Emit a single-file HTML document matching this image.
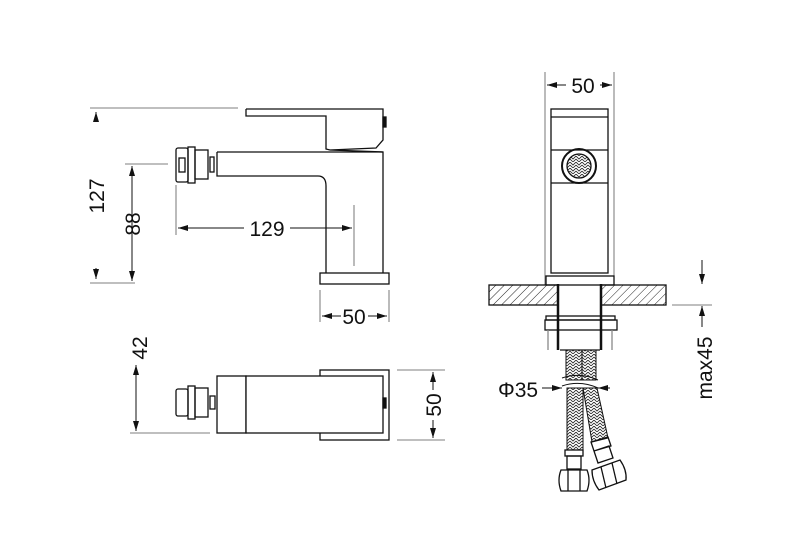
<!DOCTYPE html>
<html><head><meta charset="utf-8"><style>html,body{margin:0;padding:0;background:#fff}svg{display:block}</style></head>
<body>
<svg width="800" height="559" viewBox="0 0 800 559" xmlns="http://www.w3.org/2000/svg" font-family="Liberation Sans, Arial, sans-serif">
<defs>
<pattern id="h" width="6" height="6" patternUnits="userSpaceOnUse" patternTransform="rotate(45)">
<line x1="0" y1="0" x2="0" y2="6" stroke="#222" stroke-width="1"/></pattern>
<pattern id="br" width="6" height="6" patternUnits="userSpaceOnUse">
<path d="M0 0 L3 3 L6 0 M0 3 L3 6 L6 3" stroke="#222" stroke-width="0.8" fill="none"/></pattern>
<marker id="a" viewBox="0 0 10 6" refX="10" refY="3" markerWidth="10" markerHeight="6" orient="auto-start-reverse" markerUnits="userSpaceOnUse"><path d="M0 0 L10 3 L0 6Z" fill="#111"/></marker>
</defs>
<g fill="none" stroke="#111" stroke-width="1.3">
<path d="M246 109 H383 V140 L376 148 L330 150 M246 109 V116 H326 V149 L330 150 L383 152" />
<rect x="383" y="117" width="3" height="10" fill="#111"/>
<path d="M217 152 H383 V273 M217 152 V176 H318 Q326 176 326 186 V273"/>
<rect x="320" y="273" width="69" height="11"/>
<rect x="176" y="148" width="12" height="34" rx="2"/>
<rect x="179" y="158" width="6" height="14"/>
<rect x="188" y="147" width="7" height="36"/>
<rect x="195" y="150" width="13" height="29"/>
<rect x="210" y="157" width="4" height="15"/>
</g>
<g stroke="#555" stroke-width="0.8" fill="none">
<line x1="90" y1="108" x2="238" y2="108"/>
<line x1="125" y1="164" x2="168" y2="164"/>
<line x1="90" y1="283" x2="135" y2="283"/>
<line x1="176" y1="185" x2="176" y2="235"/>
<line x1="354" y1="205" x2="354" y2="266"/>
<line x1="320" y1="290" x2="320" y2="322"/>
<line x1="389" y1="290" x2="389" y2="322"/>
</g>
<g stroke="#111" stroke-width="1" fill="none">
<line x1="96" y1="122" x2="96" y2="112" marker-end="url(#a)"/>
<line x1="96" y1="268" x2="96" y2="279" marker-end="url(#a)"/>
<line x1="132" y1="166" x2="132" y2="281" marker-start="url(#a)" marker-end="url(#a)"/>
<line x1="178" y1="228" x2="244" y2="228" marker-start="url(#a)"/>
<line x1="290" y1="228" x2="352" y2="228" marker-end="url(#a)"/>
<line x1="322" y1="316" x2="341" y2="316" marker-start="url(#a)"/>
<line x1="368" y1="316" x2="387" y2="316" marker-end="url(#a)"/>
</g>
<g font-size="21" fill="#111" text-anchor="middle">
<text x="267" y="236">129</text>
<text x="354" y="324">50</text>
<text transform="translate(104,196) rotate(-90)">127</text>
<text transform="translate(140,224) rotate(-90)">88</text>
<text transform="translate(147,348) rotate(-90)">42</text>
<text transform="translate(441,405) rotate(-90)">50</text>
<text x="583" y="93">50</text>
<text x="518" y="397">Φ35</text>
<text transform="translate(712,368) rotate(-90)">max45</text>
</g>
<g fill="none" stroke="#111" stroke-width="1.3">
<rect x="320" y="370" width="69" height="70"/>
<rect x="217" y="376" width="29" height="57" fill="#fff"/>
<rect x="246" y="376" width="137" height="57" fill="#fff"/>
<rect x="383" y="398" width="3" height="10" fill="#111"/>
<rect x="176" y="389" width="12" height="27" rx="2"/>
<rect x="188" y="386" width="7" height="33"/>
<rect x="195" y="388" width="13" height="29"/>
<rect x="210" y="396" width="5" height="13"/>
</g>
<g stroke="#555" stroke-width="0.8"><line x1="130" y1="433" x2="210" y2="433"/><line x1="397" y1="370" x2="445" y2="370"/><line x1="397" y1="440" x2="445" y2="440"/></g>
<g stroke="#111" stroke-width="1">
<line x1="136" y1="365" x2="136" y2="431" marker-start="url(#a)" marker-end="url(#a)"/>
<line x1="433" y1="372" x2="433" y2="390" marker-start="url(#a)"/>
<line x1="433" y1="420" x2="433" y2="438" marker-end="url(#a)"/>
</g>
<g stroke="#555" stroke-width="0.8"><line x1="545" y1="72" x2="545" y2="285"/><line x1="614" y1="72" x2="614" y2="285"/><line x1="672" y1="305" x2="712" y2="305"/></g>
<g stroke="#111" stroke-width="1">
<line x1="547" y1="85" x2="566" y2="85" marker-start="url(#a)"/>
<line x1="600" y1="85" x2="612" y2="85" marker-end="url(#a)"/>
<line x1="702" y1="260" x2="702" y2="284" marker-end="url(#a)"/>
<line x1="702" y1="327" x2="702" y2="306" marker-end="url(#a)"/>
<line x1="542" y1="388" x2="562" y2="388" marker-end="url(#a)"/>
<line x1="610" y1="388" x2="598" y2="388" marker-end="url(#a)"/>
</g>
<g fill="none" stroke="#111" stroke-width="1.3">
<rect x="551" y="109" width="57" height="164"/>
<line x1="551" y1="117" x2="608" y2="117"/>
<line x1="551" y1="150" x2="608" y2="150"/>
<line x1="551" y1="183" x2="608" y2="183"/>
<circle cx="579" cy="166" r="17" stroke-width="2"/>
<circle cx="579" cy="166" r="12" fill="url(#br)"/>
<rect x="546" y="276" width="68" height="9"/>
<rect x="489" y="285" width="69" height="20" fill="url(#h)"/>
<rect x="601" y="285" width="65" height="20" fill="url(#h)"/>
<line x1="558" y1="284" x2="558" y2="350" stroke-width="2.5"/>
<line x1="601" y1="284" x2="601" y2="350" stroke-width="2.5"/>
<rect x="546" y="316" width="69" height="4"/>
<rect x="545" y="320" width="72" height="10"/>
<line x1="548" y1="330" x2="548" y2="350" stroke="#888"/>
<line x1="612" y1="330" x2="612" y2="350" stroke="#888"/>
<line x1="560" y1="350" x2="600" y2="350"/>
<rect x="566" y="350" width="16" height="30" fill="url(#br)" stroke-width="1"/>
<rect x="582" y="350" width="14" height="30" fill="url(#br)" stroke-width="1"/>
<path d="M562 378 Q580 372 598 380 M562 386 Q580 380 598 388" stroke-width="1"/>
<rect x="567" y="388" width="16" height="62" fill="url(#br)" stroke-width="1"/>
<path d="M583 388 L597 388 L608 438 L592 442 Z" fill="url(#br)" stroke-width="1"/>
<rect x="565" y="450" width="18" height="6"/>
<rect x="567" y="456" width="14" height="13"/>
<path d="M591 442 L608 437 L611 446 L594 451 Z M594 451 L609 446 L613 458 L598 463 Z"/>
<path d="M561 470 H587 Q591 480 587 491 H561 Q557 480 561 470 Z"/>
<line x1="568" y1="470" x2="568" y2="491"/><line x1="580" y1="470" x2="580" y2="491"/>
<path d="M592 470 L620 460 Q627 470 626 480 L599 490 Q592 481 592 470 Z"/>
<line x1="601" y1="467" x2="606" y2="488"/><line x1="612" y1="463" x2="617" y2="484"/>
</g>
</svg>
</body></html>
